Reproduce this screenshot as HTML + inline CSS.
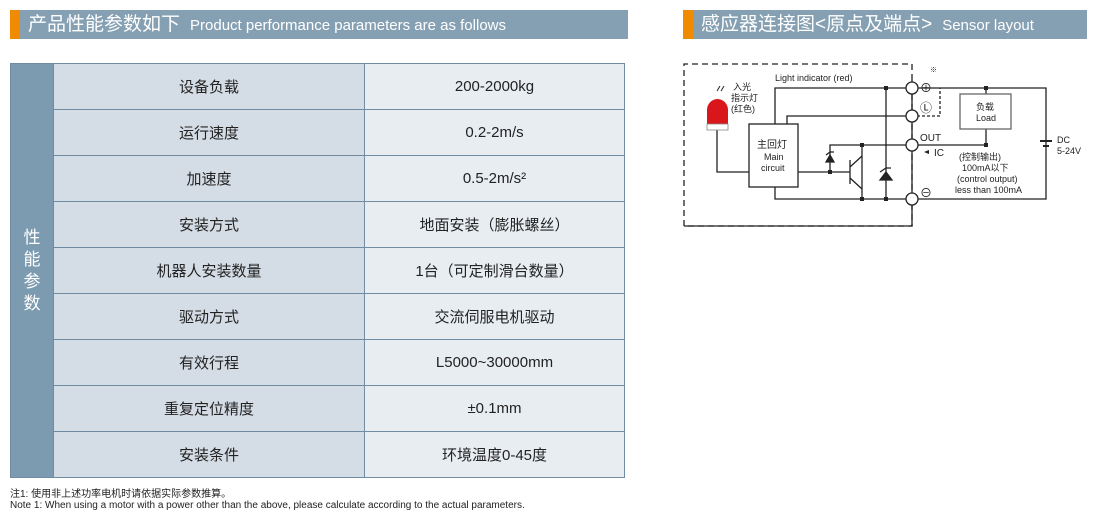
<!DOCTYPE html>
<html><head><meta charset="utf-8"><style>
body{margin:0;width:1100px;height:520px;background:#fff;font-family:"Liberation Sans","Noto Sans CJK SC",sans-serif;position:relative;overflow:hidden}
.hdr{position:absolute;top:10px;height:29px;background:#86a0b3;color:#fff;border-left:10px solid #f08a00;box-sizing:border-box;line-height:29px;white-space:nowrap}
.hdr b{font-weight:normal;font-size:19px;margin-left:8px}
.hdr span{font-size:15px;margin-left:10px}
table{position:absolute;left:10px;top:63px;width:615px;height:413px;border-collapse:collapse;font-size:15px;color:#222}
td{border:1.5px solid #6f8ca3;text-align:center;height:45px;padding:0}
td.l{background:#7c9ab0;color:#fff;width:42px;font-size:17px;line-height:22px}
td.a{background:#d4dce5;width:310px}
td.b{background:#e8edf2}
.note{position:absolute;left:10px;font-size:10px;color:#222}
</style></head><body>
<div class="hdr" style="left:10px;width:618px"><b>产品性能参数如下</b><span>Product performance parameters are as follows</span></div>
<div class="hdr" style="left:683px;width:404px"><b>感应器连接图&lt;原点及端点&gt;</b><span>Sensor layout</span></div>
<table>
<tr><td class="l" rowspan="9">性<br>能<br>参<br>数</td><td class="a">设备负载</td><td class="b">200-2000kg</td></tr>
<tr><td class="a">运行速度</td><td class="b">0.2-2m/s</td></tr>
<tr><td class="a">加速度</td><td class="b">0.5-2m/s²</td></tr>
<tr><td class="a">安装方式</td><td class="b">地面安装（膨胀螺丝）</td></tr>
<tr><td class="a">机器人安装数量</td><td class="b">1台（可定制滑台数量）</td></tr>
<tr><td class="a">驱动方式</td><td class="b">交流伺服电机驱动</td></tr>
<tr><td class="a">有效行程</td><td class="b">L5000~30000mm</td></tr>
<tr><td class="a">重复定位精度</td><td class="b">±0.1mm</td></tr>
<tr><td class="a">安装条件</td><td class="b">环境温度0-45度</td></tr>
</table>
<div class="note" style="top:485px">注1: 使用非上述功率电机时请依据实际参数推算。</div>
<div class="note" style="top:500px">Note 1: When using a motor with a power other than the above, please calculate according to the actual parameters.</div>
<svg style="position:absolute;left:0;top:0" width="1100" height="520" font-family="Liberation Sans,Noto Sans CJK SC,sans-serif" fill="none" stroke="#222" stroke-width="1.3">
<path d="M684 226 V64 H912 V226 H684" stroke-dasharray="6 4" />
<path d="M684 226 H912 V80" />
<path d="M775 124 V88 H1046 V199 H917" />
<path d="M787 124 V116 H907" />
<path d="M717 130 V172 H749" />
<path d="M798 172 H850" />
<path d="M830 172 V145 H907" /><path d="M862 145 V199 M886 88 V199" />
<path d="M775 187 V199 H907" />
<path d="M917 145 H986 V129" /><path d="M986 94 V88" />
<path d="M917 116 H940 V88" stroke-dasharray="3 2"/>
<rect x="749" y="124" width="49" height="63" fill="#fff"/>
<rect x="960" y="94" width="51" height="35" fill="#fff" stroke="#666"/>
<path d="M850 160 V184 M850 167 L862 156 M850 178 L862 189"/>
<path d="M826 155 L830 152 H834 M880 172 L886 168 H891" />
<path d="M826 162 H834 L830 155 Z M880 180 H892 L886 172 Z" fill="#222"/>
<path d="M1040 141 H1052 M1043 146 H1049" stroke-width="2"/>
<g fill="#fff"><circle cx="912" cy="88" r="6"/><circle cx="912" cy="116" r="6"/><circle cx="912" cy="145" r="6"/><circle cx="912" cy="199" r="6"/></g>
<g fill="#222" stroke="none"><rect x="884" y="86" width="4" height="4"/><rect x="984" y="86" width="4" height="4"/><rect x="860" y="143" width="4" height="4"/><rect x="984" y="143" width="4" height="4"/><rect x="828" y="170" width="4" height="4"/><rect x="860" y="197" width="4" height="4"/><rect x="884" y="197" width="4" height="4"/>
<path d="M924 152 l5 -2 v4z"/></g>
<path d="M707 124 V110 A10.5 11 0 0 1 728 110 V124 Z" fill="#d8161b" stroke="none"/>
<rect x="707" y="124" width="21" height="6" fill="#fff" stroke="#888" stroke-width="0.8"/>
<path d="M717 91 l3 -5 M721 91 l3 -5" stroke-width="1"/>
<g fill="#222" stroke="none" font-size="9">
<text x="775" y="81">Light indicator (red)</text>
<text x="733" y="90">入光</text><text x="731" y="101">指示灯</text><text x="731" y="112">(红色)</text>
<text x="757" y="148" font-size="10">主回灯</text><text x="764" y="160">Main</text><text x="761" y="171">circuit</text>
<text x="976" y="110">负载</text><text x="976" y="121">Load</text>
<text x="920" y="141" font-size="10">OUT</text><text x="934" y="156" font-size="10">IC</text>
<text x="959" y="160">(控制输出)</text><text x="962" y="171">100mA以下</text><text x="957" y="182">(control output)</text><text x="955" y="193">less than 100mA</text>
<text x="1057" y="143">DC</text><text x="1057" y="154">5-24V</text>
<text x="920" y="92" font-size="12">⊕</text><text x="930" y="72" font-size="7">※</text>
<text x="920" y="112" font-size="12">Ⓛ</text><text x="920" y="197" font-size="12">⊖</text>
</g></svg>
</body></html>
